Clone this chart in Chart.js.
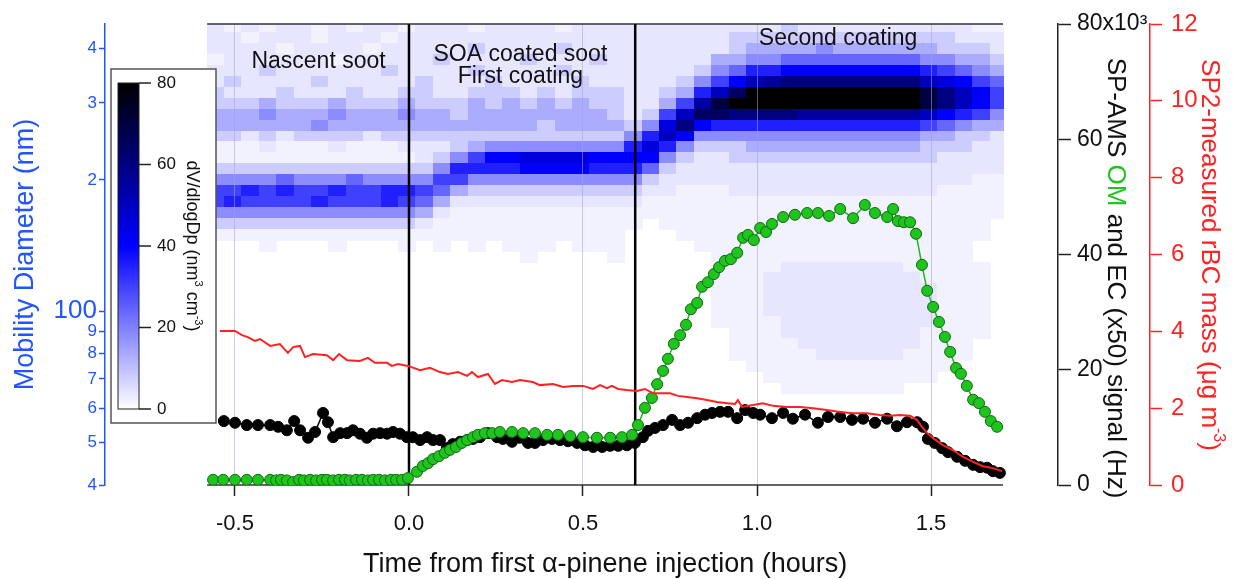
<!DOCTYPE html>
<html>
<head>
<meta charset="utf-8">
<script src="https://cdn.jsdelivr.net/npm/chart.js@4.4.1/dist/chart.umd.min.js"></script>
<style>
  html, body { margin: 0; padding: 0; background: #fff; }
</style>
</head>
<body>
<canvas id="chart" width="1239" height="579"></canvas>
<script>
const FONT = "'Liberation Sans', Arial, sans-serif";
const BLUE = '#2255ff';
const RED = '#ff2222';
const GREEN = '#1fc41f';

// ---- axes ----
const timeTicks = [-0.5, 0, 0.5, 1.0, 1.5];
const dpTicks = [40, 50, 60, 70, 80, 90, 100, 200, 300, 400];
const dpTickLabels = ['4', '5', '6', '7', '8', '9', '100', '2', '3', '4'];
const signalTicks = [0, 20, 40, 60, 80];
const rbcTicks = [0, 2, 4, 6, 8, 10, 12];
const cbarTicks = [0, 20, 40, 60, 80];
const cbarMax = 80;
const phaseBounds = [0, 0.65];
const phaseLabels = [
  { lines: ['Nascent soot'], t: -0.26 },
  { lines: ['SOA coated soot', 'First coating'], t: 0.32 },
  { lines: ['Second coating'], t: 1.233 }
];

// ---- SP-AMS OM signal (x10^3 Hz) ----
const omTime = [-0.563,-0.534,-0.500,-0.466,-0.434,-0.399,-0.382,-0.368,-0.351,-0.333,
  -0.316,-0.302,-0.284,-0.267,-0.250,-0.236,-0.218,-0.201,-0.184,-0.170,
  -0.152,-0.135,-0.118,-0.103,-0.086,-0.069,-0.052,-0.037,-0.020,-0.003,
  0.023,0.040,0.055,0.069,0.086,0.103,0.118,0.135,0.152,0.167,
  0.184,0.198,0.218,0.239,0.261,0.296,0.328,0.362,0.397,0.428,
  0.463,0.500,0.540,0.578,0.612,0.641,
  0.658,0.678,0.698,0.713,0.730,0.744,0.761,0.779,0.796,0.810,
  0.828,0.842,0.859,0.876,0.891,0.908,0.925,0.943,0.960,0.974,
  0.991,1.009,1.026,1.043,1.075,1.109,1.144,1.175,1.207,1.239,
  1.276,1.310,1.339,1.374,1.391,1.405,1.422,1.440,1.457,1.474,
  1.489,1.506,1.523,1.540,1.555,1.572,1.586,1.603,1.621,1.638,
  1.655,1.672,1.690];
const omSignal = [0.9,0.9,0.9,0.9,0.9,0.9,0.8,0.9,0.8,0.5,
  0.9,0.8,0.9,0.8,0.9,0.9,0.8,0.9,0.9,0.8,
  0.9,0.9,0.8,0.9,0.9,0.8,0.9,0.9,0.9,1.2,
  2.3,3.3,3.8,4.5,5.0,5.6,6.1,6.6,7.3,7.8,
  8.3,8.7,9.0,9.0,9.2,9.2,9.0,9.0,8.7,8.7,
  8.5,8.3,8.2,8.2,8.3,8.7,
  10.4,13.4,15.1,17.5,19.8,21.9,24.5,26.0,27.8,30.5,
  31.6,34.4,35.2,36.6,37.8,38.9,39.2,40.3,42.9,43.4,
  42.5,44.6,43.9,45.3,46.5,46.9,47.2,47.2,46.7,47.9,
  46.3,48.6,47.2,46.5,47.9,45.8,45.6,45.6,43.6,38.2,
  33.7,30.9,28.3,25.7,23.1,20.3,19.3,17.2,14.8,14.2,
  12.7,11.1,10.1];

// ---- SP-AMS EC (x50) signal (x10^3 Hz) ----
const ecTime = [-0.532,-0.500,-0.466,-0.434,-0.399,-0.376,-0.351,-0.330,-0.313,-0.290,
  -0.270,-0.247,-0.233,-0.218,-0.198,-0.178,-0.161,-0.141,-0.121,-0.103,
  -0.083,-0.063,-0.046,-0.026,-0.006,0.011,0.032,0.052,0.069,0.089,
  0.109,0.126,0.147,0.167,0.184,0.204,0.227,0.253,0.270,0.296,
  0.319,0.342,0.362,0.385,0.411,0.434,0.457,0.483,0.506,0.529,
  0.555,0.578,0.601,0.626,0.649,0.672,0.687,0.707,0.730,0.756,
  0.779,0.802,0.828,0.851,0.871,0.894,0.917,0.943,0.966,0.989,
  1.009,1.043,1.075,1.103,1.138,1.175,1.204,1.239,1.273,1.305,
  1.339,1.374,1.402,1.431,1.460,1.477,1.491,1.511,1.532,1.549,
  1.575,1.598,1.621,1.641,1.661,1.678,1.698];
const ecSignal = [11.1,10.8,10.4,10.4,10.4,10.1,9.5,11.1,9.5,8.2,
  9.2,12.5,10.9,8.3,9.0,9.0,9.5,8.9,8.2,8.9,
  9.0,8.9,9.2,8.9,8.3,8.3,7.8,8.3,7.8,7.8,
  6.4,7.1,7.5,7.8,8.0,8.3,9.0,8.3,8.0,7.5,
  8.2,7.3,7.3,7.8,8.0,7.8,7.6,7.3,6.9,6.6,
  6.6,6.8,6.8,6.9,7.3,8.3,9.4,9.9,10.4,11.3,
  10.4,10.8,11.6,12.2,12.5,12.7,12.7,11.6,13.0,12.5,
  12.2,11.6,12.5,11.5,12.2,10.8,11.8,11.8,11.3,11.5,
  10.8,11.5,10.2,10.9,10.9,10.1,8.0,7.3,6.4,5.7,
  4.9,4.2,3.5,3.1,3.0,2.4,2.1];

// ---- SP2 rBC mass (ug m-3) ----
const rbcTime = [-0.543,-0.500,-0.480,-0.463,-0.443,-0.428,-0.399,-0.371,-0.348,-0.333,
  -0.313,-0.299,-0.276,-0.236,-0.218,-0.201,-0.178,-0.141,-0.118,-0.098,
  -0.063,-0.049,-0.032,-0.003,0.032,0.060,0.089,0.112,0.141,0.167,
  0.181,0.198,0.227,0.247,0.267,0.296,0.319,0.356,0.376,0.414,
  0.443,0.471,0.500,0.529,0.549,0.569,0.583,0.601,0.626,0.655,
  0.678,0.701,0.730,0.750,0.773,0.799,0.828,0.856,0.885,0.914,
  0.937,0.945,0.957,0.989,1.017,1.046,1.086,1.124,1.161,1.201,
  1.239,1.276,1.316,1.353,1.382,1.411,1.440,1.460,1.474,1.489,
  1.506,1.534,1.563,1.592,1.621,1.649,1.678,1.704];
const rbcMass = [4.01,4.01,3.90,3.85,3.75,3.80,3.62,3.67,3.44,3.59,
  3.62,3.33,3.41,3.38,3.25,3.41,3.25,3.23,3.31,3.18,
  3.18,3.10,3.15,3.10,2.99,3.05,2.94,2.89,2.94,2.84,
  2.94,2.81,2.89,2.63,2.73,2.68,2.73,2.68,2.60,2.63,
  2.55,2.58,2.58,2.50,2.60,2.52,2.58,2.50,2.47,2.45,
  2.50,2.39,2.39,2.39,2.32,2.29,2.26,2.21,2.16,2.13,
  2.11,2.21,2.03,2.08,2.13,2.06,2.03,2.03,2.00,1.95,
  1.90,1.87,1.87,1.82,1.80,1.82,1.80,1.69,1.51,1.35,
  1.22,1.04,0.91,0.73,0.60,0.49,0.44,0.36];

// ---- SMPS volume distribution dV/dlogDp ----
// one string per size bin (largest first), one char per time bin, char = index into heatLevels
const heatTimeStart = -0.58, heatTimeStep = 0.05, heatTimeEnd = 1.707;
const heatDpTop = 460, heatLogStep = 0.025;
const heatLevels = [0, 2, 4, 8, 13, 18, 24, 30, 35, 40, 45, 50, 55, 60, 65, 70, 80];
const heatRows = [
  '212122121221 222122221222 2222222 2232222222 22211',
  '221222122212 222222222222 2222223 3333333333 33222',
  '222212222122 222322223222 2222223 4444544444 43332',
  '122222212222 232222322232 2222244 5566666666 55443',
  '222322222232 222322223222 2222356 8899999999 87654',
  '232222322222 322232222322 2223579 bcdddddddd ba976',
  '322232223223 322333232333 22348be gggggggggg fdb97',
  '333433343334 333434343433 2247cfg gggggggggg fdb97',
  '444544454445 443444444443 237beed dddccccccc b9875',
  '444444544444 444444434444 35ad988 8888888888 76544',
  '332323333233 333333333333 58b9555 5555555555 44332',
  '111211121112 223455555555 8a85333 4444444444 33322',
  '111111111111 235799aaaa99 9953223 3333333333 32222',
  '333333333333 358888999988 8632222 2222222222 22222',
  '555565556555 577555555555 5322222 2222222222 22211',
  '778787787788 764333333333 3221112 2222222222 21111',
  '787777877787 642222222222 2111111 1111111111 11111',
  '555555555555 421111111111 1111111 1111111111 11111',
  '333333333333 211111111111 1011111 1111111111 11110',
  '111111111111 111111111111 0001111 1111111111 11110',
  '000100010001 010101110111 0000111 1111111111 11100',
  '000000000000 000000100001 0000011 1111111111 11100',
  '000000000000 000000000000 0000011 1122222221 11110',
  '000000000000 000000000000 0000011 1222222222 11110',
  '000000000000 000000000000 0000011 1222222222 21110',
  '000000000000 000000000000 0000011 1222222222 21110',
  '000000000000 000000000000 0000011 1222222222 21110',
  '000000000000 000000000000 0000011 1122222222 21110',
  '000000000000 000000000000 0000001 1122222222 11110',
  '000000000000 000000000000 0000001 1112222222 11100',
  '000000000000 000000000000 0000001 1111222221 11100',
  '000000000000 000000000000 0000000 1111111111 11000',
  '000000000000 000000000000 0000000 0111111111 10000',
  '000000000000 000000000000 0000000 0011111110 00000'
];

function heatColor(v) {
  const f = Math.max(0, Math.min(1, v / cbarMax));
  let r, b;
  if (f <= 0.5) { r = Math.round(255 * (1 - f / 0.5)); b = 255; }
  else { r = 0; b = Math.round(255 * (1 - (f - 0.5) / 0.5)); }
  return `rgb(${r},${r},${b})`;
}

function drawRich(ctx, parts, x, y, angle, size) {
  ctx.save();
  ctx.translate(x, y);
  ctx.rotate(angle);
  ctx.textBaseline = 'alphabetic';
  ctx.textAlign = 'left';
  const supSize = Math.round(size * 0.62);
  let total = 0;
  parts.forEach(p => {
    ctx.font = `${p.sup ? supSize : size}px ${FONT}`;
    total += ctx.measureText(p.text).width;
  });
  let cx = -total / 2;
  parts.forEach(p => {
    ctx.font = `${p.sup ? supSize : size}px ${FONT}`;
    ctx.fillStyle = p.color;
    ctx.fillText(p.text, cx, p.sup ? -size * 0.45 : 0);
    cx += ctx.measureText(p.text).width;
  });
  ctx.restore();
}

const heatmapPlugin = {
  id: 'heatmap',
  beforeDraw(chart) {
    const { ctx, chartArea: a, scales: { x, yD } } = chart;
    ctx.save();
    ctx.beginPath();
    ctx.rect(a.left, a.top, a.right - a.left, a.bottom - a.top);
    ctx.clip();
    const xEnd = x.getPixelForValue(heatTimeEnd);
    heatRows.forEach((row, i) => {
      const cells = row.replace(/ /g, '');
      const y0 = Math.floor(yD.getPixelForValue(heatDpTop * Math.pow(10, -heatLogStep * i)));
      const y1 = Math.ceil(yD.getPixelForValue(heatDpTop * Math.pow(10, -heatLogStep * (i + 1))));
      for (let j = 0; j < cells.length; j++) {
        const v = heatLevels[parseInt(cells[j], 36)];
        if (!v) continue;
        const t0 = heatTimeStart + j * heatTimeStep;
        const x0 = Math.floor(x.getPixelForValue(t0));
        const x1 = Math.ceil(Math.min(x.getPixelForValue(t0 + heatTimeStep), xEnd));
        if (x1 <= x0) continue;
        ctx.fillStyle = heatColor(v);
        ctx.fillRect(x0, y0, x1 - x0, y1 - y0);
      }
    });
    ctx.restore();
  },
  beforeDatasetsDraw(chart) {
    const { ctx, chartArea: a, scales: { x } } = chart;
    ctx.save();
    // frame lines across the measured period
    ctx.strokeStyle = '#333';
    ctx.lineWidth = 1.5;
    const xs = x.getPixelForValue(heatTimeStart), xe = x.getPixelForValue(heatTimeEnd);
    ctx.beginPath();
    ctx.moveTo(xs, a.top); ctx.lineTo(xe, a.top);
    ctx.moveTo(xs, a.bottom); ctx.lineTo(xe, a.bottom);
    ctx.stroke();
    // phase boundaries
    ctx.strokeStyle = '#000';
    ctx.lineWidth = 2.5;
    phaseBounds.forEach(t => {
      const px = x.getPixelForValue(t);
      ctx.beginPath();
      ctx.moveTo(px, a.top); ctx.lineTo(px, a.bottom);
      ctx.stroke();
    });
    ctx.restore();
  },
  afterDatasetsDraw(chart) {
    const { ctx, chartArea: a, scales: { x } } = chart;
    ctx.save();
    // phase labels
    ctx.fillStyle = '#111';
    ctx.font = `23px ${FONT}`;
    ctx.textAlign = 'center';
    ctx.textBaseline = 'alphabetic';
    const baseY = [[44], [37, 59], [21]];
    phaseLabels.forEach((p, k) => {
      p.lines.forEach((s, n) => ctx.fillText(s, x.getPixelForValue(p.t), a.top + baseY[k][n]));
    });

    // colour bar inset
    const cb = { left: a.left + 6, top: a.top + 45, right: a.left + 111, bottom: a.top + 399 };
    ctx.fillStyle = '#fff';
    ctx.fillRect(cb.left, cb.top, cb.right - cb.left, cb.bottom - cb.top);
    ctx.strokeStyle = '#555';
    ctx.lineWidth = 1.5;
    ctx.strokeRect(cb.left, cb.top, cb.right - cb.left, cb.bottom - cb.top);
    const bar = { left: cb.left + 7, right: cb.left + 28, top: cb.top + 14, bottom: cb.bottom - 14 };
    const grad = ctx.createLinearGradient(0, bar.bottom, 0, bar.top);
    cbarTicks.forEach(v => grad.addColorStop(v / cbarMax, heatColor(v)));
    ctx.fillStyle = grad;
    ctx.fillRect(bar.left, bar.top, bar.right - bar.left, bar.bottom - bar.top);
    ctx.strokeStyle = '#222';
    ctx.lineWidth = 1;
    ctx.strokeRect(bar.left, bar.top, bar.right - bar.left, bar.bottom - bar.top);
    ctx.font = `17px ${FONT}`;
    ctx.textAlign = 'left';
    ctx.textBaseline = 'middle';
    ctx.fillStyle = '#111';
    ctx.lineWidth = 1.5;
    cbarTicks.forEach(v => {
      const py = bar.bottom - (bar.bottom - bar.top) * v / cbarMax;
      ctx.beginPath();
      ctx.moveTo(bar.right, py); ctx.lineTo(bar.right + 12, py);
      ctx.stroke();
      ctx.fillText(String(v), bar.right + 18, py);
    });
    drawRich(ctx, [
      { text: 'dV/dlogDp (nm', color: '#111' },
      { text: '3', color: '#111', sup: true },
      { text: ' cm', color: '#111' },
      { text: '-3', color: '#111', sup: true },
      { text: ')', color: '#111' }
    ], cb.left + 76, (bar.top + bar.bottom) / 2, Math.PI / 2, 18);
    ctx.restore();
  },
  afterDraw(chart) {
    const { ctx, scales: { x, yD, yS, yR } } = chart;
    drawRich(ctx, [{ text: 'Time from first \u03b1-pinene injection (hours)', color: '#111' }],
      x.getPixelForValue((heatTimeStart + heatTimeEnd) / 2), x.bottom - 7, 0, 27);
    drawRich(ctx, [{ text: 'Mobility Diameter (nm)', color: BLUE }],
      yD.left + 33, (yD.top + yD.bottom) / 2 + 0, -Math.PI / 2, 27);
    drawRich(ctx, [
      { text: 'SP-AMS ', color: '#111' },
      { text: 'OM', color: GREEN },
      { text: ' and EC (x50) signal (Hz)', color: '#111' }
    ], yS.left + 50, 278, Math.PI / 2, 26);
    drawRich(ctx, [
      { text: 'SP2-measured rBC mass (\u03bcg m', color: RED },
      { text: '-3', color: RED, sup: true },
      { text: ')', color: RED }
    ], yR.left + 52, 255, Math.PI / 2, 26);
  }
};

const pts = (xs, ys) => xs.map((t, i) => ({ x: t, y: ys[i] })).filter(p => p.y !== undefined);

new Chart(document.getElementById('chart'), {
  type: 'line',
  data: {
    datasets: [
      { label: 'rBC', data: pts(rbcTime, rbcMass), yAxisID: 'yR',
        borderColor: RED, borderWidth: 2, pointRadius: 0, tension: 0 },
      { label: 'OM', data: pts(omTime, omSignal), yAxisID: 'yS',
        borderColor: '#22b822', borderWidth: 1.5, pointRadius: 5.5,
        pointBackgroundColor: GREEN, pointBorderColor: '#0e6a0e', pointBorderWidth: 1 },
      { label: 'EC', data: pts(ecTime, ecSignal), yAxisID: 'yS',
        borderColor: '#000', borderWidth: 1.5, pointRadius: 5.5,
        pointBackgroundColor: '#000', pointBorderColor: '#000', pointBorderWidth: 1 }
    ]
  },
  options: {
    responsive: false,
    animation: false,
    devicePixelRatio: 1,
    layout: { padding: { top: 24, left: 0, right: 0, bottom: 0 } },
    plugins: { legend: { display: false }, tooltip: { enabled: false } },
    scales: {
      x: {
        type: 'linear', min: -0.87356, max: 1.86494,
        afterBuildTicks: s => { s.ticks = timeTicks.map(v => ({ value: v })); },
        afterFit: s => { s.height = 94; },
        border: { display: false },
        grid: { color: 'rgba(160,160,230,0.55)', borderDash: [1, 3], lineWidth: 1,
          drawTicks: true, tickLength: 11, tickColor: '#222', tickBorderDash: [], tickWidth: 1.5 },
        ticks: { color: '#111', font: { family: FONT, size: 22 }, padding: 15,
          maxRotation: 0, autoSkip: false, callback: v => Number(v).toFixed(1) }
      },
      yD: {
        type: 'logarithmic', position: 'left', min: 40, max: 455,
        afterBuildTicks: s => { s.ticks = dpTicks.map(v => ({ value: v })); },
        afterFit: s => { s.width = 105; },
        border: { display: true, color: BLUE, width: 1.5 },
        grid: { drawOnChartArea: false, drawTicks: true, tickLength: 6, color: BLUE, tickColor: BLUE, tickWidth: 1.5 },
        ticks: { color: BLUE, padding: 2, autoSkip: false,
          font: c => ({ family: FONT, size: c.tick && c.tick.value === 100 ? 26 : 17 }),
          callback: (v, i) => dpTickLabels[i] }
      },
      yS: {
        type: 'linear', position: 'right', weight: 0, min: 0, max: 80,
        afterBuildTicks: s => { s.ticks = signalTicks.map(v => ({ value: v })); },
        afterFit: s => { s.width = 92; },
        border: { display: true, color: '#222', width: 1.5 },
        grid: { drawOnChartArea: false, drawTicks: true, tickLength: 13, color: '#222', tickColor: '#222', tickWidth: 1.5 },
        ticks: { color: '#111', padding: 6, font: { family: FONT, size: 23 },
          callback: v => v === 80 ? '80x10\u00b3' : String(v) }
      },
      yR: {
        type: 'linear', position: 'right', weight: 1, min: 0, max: 12,
        afterBuildTicks: s => { s.ticks = rbcTicks.map(v => ({ value: v })); },
        afterFit: s => { s.width = 89; },
        border: { display: true, color: RED, width: 1.5 },
        grid: { drawOnChartArea: false, drawTicks: true, tickLength: 12, color: RED, tickColor: RED, tickWidth: 1.5 },
        ticks: { color: RED, padding: 9, font: { family: FONT, size: 24 }, callback: v => String(v) }
      }
    }
  },
  plugins: [heatmapPlugin]
});
</script>
</body>
</html>
